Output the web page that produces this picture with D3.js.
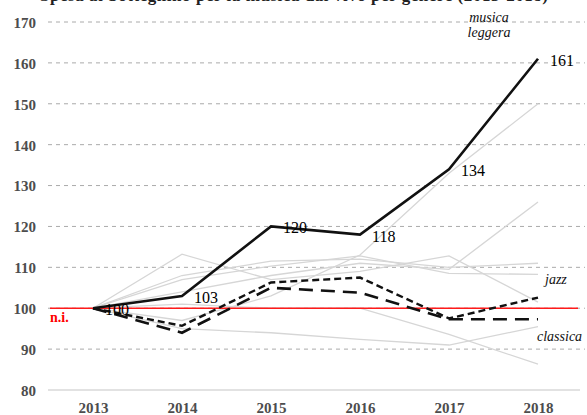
<!DOCTYPE html>
<html>
<head>
<meta charset="utf-8">
<script src="https://cdn.jsdelivr.net/npm/d3@7"></script>
<style>
  body { margin: 0; background: #fff; }
  svg { display: block; font-family: "Liberation Serif", "DejaVu Serif", serif; }
</style>
</head>
<body>
<svg id="chart" width="587" height="415"></svg>
<script>
// anni e valori (indice 2013 = 100)
const years = ['2013', '2014', '2015', '2016', '2017', '2018'];
const yTicks = [80, 90, 100, 110, 120, 130, 140, 150, 160, 170];

const musicaLeggera = [100, 103, 120, 118, 134, 161];
const jazz = [100, 95.7, 106.3, 107.5, 97.5, 102.6];
const classica = [100, 94, 105, 103.8, 97.3, 97.3];

// altri generi (grigio)
const other1 = [100, 97, 103, 113, 133, 150];
const other2 = [100, 104, 108, 111, 109.5, 126];
const other3 = [100, 108, 111.5, 112, 110, 111];
const other4 = [100, 107, 110.3, 112.8, 108.5, 108.3];
const other5 = [100, 113.2, 107, 109, 112.8, 101.5];
const other6 = [100, 95, 94, 92.4, 91, 95.5];
const other7 = [100, 101, 100, 100, 93.6, 86.3];
const others = [other1, other2, other3, other4, other5, other6, other7];

const svg = d3.select('#chart');

const x = d3.scalePoint().domain(years).range([93, 538]);
const y = d3.scaleLinear().domain([80, 170]).range([390, 22]);

// titolo (tagliato in alto, come nell'originale)
svg.append('text')
   .attr('x', 40).attr('y', 1)
   .attr('textLength', 508)
   .attr('font-size', 17).attr('font-weight', 'bold').attr('fill', '#222')
   .text('Spesa al botteghino per la musica dal vivo per genere (2013-2018)');

// griglia
svg.append('g')
   .selectAll('line')
   .data(yTicks.filter(d => d > 80))
   .enter()
   .append('line')
     .attr('x1', 48).attr('x2', 585)
     .attr('y1', d => y(d)).attr('y2', d => y(d))
     .attr('stroke', '#aaaaaa')
     .attr('stroke-width', 1)
     .attr('stroke-dasharray', '4,4');

svg.append('line')
   .attr('x1', 48).attr('x2', 580)
   .attr('y1', y(80)).attr('y2', y(80))
   .attr('stroke', '#d9d9d9').attr('stroke-width', 1.3);

// asse y
svg.append('g')
   .attr('transform', 'translate(36,0)')
   .call(d3.axisLeft(y).tickValues(yTicks).tickSize(0).tickPadding(0))
   .call(g => g.select('.domain').remove())
   .call(g => g.selectAll('text')
      .attr('font-family', '"Liberation Serif", serif')
      .attr('font-size', 15).attr('font-weight', 'bold')
      .attr('fill', '#4d4d4d').attr('dy', '0.36em'));

// asse x
svg.append('g')
   .attr('transform', 'translate(0,402)')
   .call(d3.axisBottom(x).tickSize(0).tickPadding(0))
   .call(g => g.select('.domain').remove())
   .call(g => g.selectAll('text')
      .attr('font-family', '"Liberation Serif", serif')
      .attr('font-size', 15).attr('font-weight', 'bold')
      .attr('fill', '#4d4d4d').attr('dy', '0.75em'));

const line = d3.line()
   .x((d, i) => x(years[i]))
   .y(d => y(d));

// linee grigie
svg.append('g')
   .selectAll('path')
   .data(others)
   .enter()
   .append('path')
     .attr('d', line)
     .attr('fill', 'none')
     .attr('stroke', '#d6d6d6')
     .attr('stroke-width', 1.3);

// linea rossa 100
svg.append('line')
   .attr('x1', 50).attr('x2', 578)
   .attr('y1', y(100)).attr('y2', y(100))
   .attr('stroke', '#ff1a1a').attr('stroke-width', 1.6);
svg.append('text')
   .attr('x', 50).attr('y', 322)
   .attr('font-size', 14).attr('font-weight', 'bold').attr('fill', '#ff0000')
   .text('n.i.');

// serie principali
svg.append('path').datum(classica)
   .attr('d', line).attr('fill', 'none')
   .attr('stroke', '#111').attr('stroke-width', 2.6)
   .attr('stroke-dasharray', '14,8');

svg.append('path').datum(jazz)
   .attr('d', line).attr('fill', 'none')
   .attr('stroke', '#111').attr('stroke-width', 2.4)
   .attr('stroke-dasharray', '7,4');

svg.append('path').datum(musicaLeggera)
   .attr('d', line).attr('fill', 'none')
   .attr('stroke', '#111').attr('stroke-width', 2.6);

// etichette valori
svg.append('g')
   .selectAll('text')
   .data(musicaLeggera)
   .enter()
   .append('text')
     .attr('x', (d, i) => x(years[i]) + 12)
     .attr('y', d => y(d) + 7)
     .attr('font-size', 16)
     .attr('fill', '#000')
     .text(d => d);

// nomi serie
const italic = (t, px, py) => svg.append('text')
   .attr('x', px).attr('y', py)
   .attr('font-size', 14).attr('font-style', 'italic').attr('fill', '#111')
   .text(t);
italic('musica', 489, 22).attr('text-anchor', 'middle');
italic('leggera', 489, 37).attr('text-anchor', 'middle');
italic('jazz', 545, 284);
italic('classica', 537, 341);
</script>
</body>
</html>
